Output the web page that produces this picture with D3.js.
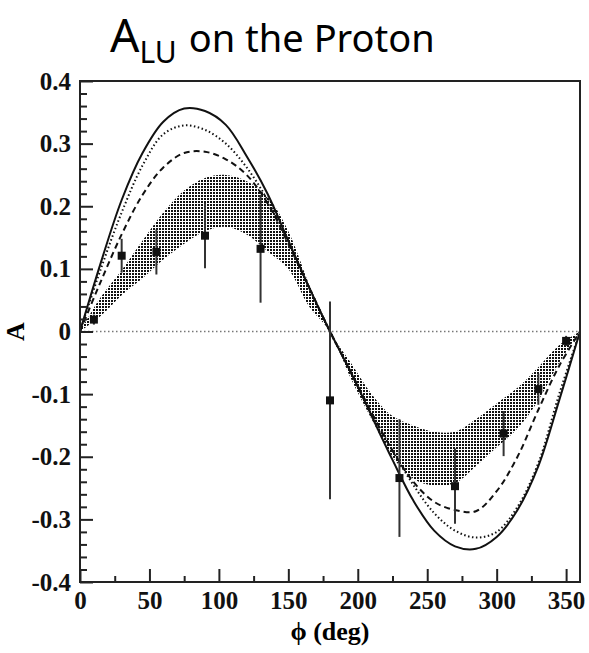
<!DOCTYPE html>
<html>
<head>
<meta charset="utf-8">
<script src="https://cdn.jsdelivr.net/npm/d3@7"></script>
<style>
  body { margin: 0; background: #fff; }
  svg { display: block; }
</style>
</head>
<body>
<svg id="chart"></svg>
<script>
// phi grid used for the model curves and the band (deg)
const phiGrid = [0, 15, 30, 45, 60, 75, 90, 105, 120, 135, 150, 165, 180,
                 195, 210, 225, 240, 255, 270, 285, 300, 315, 330, 345, 360];

// model curves
const solidA  = [0, .11, .21, .285, .335, .356, .352, .33, .28, .22, .145, .07, 0,
                 -.065, -.135, -.205, -.27, -.318, -.343, -.347, -.328, -.285, -.215, -.11, 0];
const dottedA = [0, .10, .19, .265, .315, .329, .322, .30, .262, .21, .143, .07, 0,
                 -.065, -.13, -.19, -.245, -.29, -.318, -.329, -.32, -.28, -.21, -.10, 0];
const dashedA = [0, .08, .155, .218, .262, .285, .287, .275, .25, .205, .14, .07, 0,
                 -.065, -.13, -.19, -.24, -.272, -.285, -.287, -.255, -.20, -.125, -.055, 0];

// shaded band (lower / upper edge)
const bandLow  = [0, .025, .058, .085, .115, .14, .16, .167, .155, .128, .10, .04, 0,
                  -.075, -.14, -.2, -.235, -.246, -.242, -.215, -.185, -.155, -.11, -.05, 0];
const bandHigh = [0, .055, .098, .145, .19, .225, .245, .25, .24, .215, .16, .075, 0,
                  -.05, -.10, -.135, -.15, -.16, -.16, -.14, -.115, -.09, -.057, -.022, 0];

// measured points
const ptPhi = [10, 30, 55, 90, 130, 180, 230, 270, 305, 330, 350];
const ptA   = [.019, .121, .127, .153, .132, -.11, -.234, -.247, -.163, -.092, -.015];
const ptErr = [.008, .027, .036, .052, .086, .158, .094, .06, .036, .025, .008];

const xTicks = [0, 50, 100, 150, 200, 250, 300, 350];
const xMinor = [25, 75, 125, 175, 225, 275, 325];
const yTicks = [-0.4, -0.3, -0.2, -0.1, 0, 0.1, 0.2, 0.3, 0.4];
const yMinor = d3.range(-0.38, 0.4, 0.02).filter(v => Math.abs(Math.round(v * 10) - v * 10) > 0.05);

const W = 589, H = 653;
const svg = d3.select("#chart").attr("width", W).attr("height", H);

const x = d3.scaleLinear().domain([0, 360]).range([80, 580]);
const y = d3.scaleLinear().domain([-0.4, 0.4]).range([582, 81]);

// pattern for the stippled band
const defs = svg.append("defs");
const pat = defs.append("pattern")
    .attr("id", "stip")
    .attr("patternUnits", "userSpaceOnUse")
    .attr("width", 3).attr("height", 3);
pat.append("rect").attr("x", 0).attr("y", 0).attr("width", 2).attr("height", 2).attr("fill", "#111");

const bandData = phiGrid.map((p, i) => ({ p, lo: bandLow[i], hi: bandHigh[i] }));
const area = d3.area()
    .x(d => x(d.p))
    .y0(d => y(d.lo))
    .y1(d => y(d.hi))
    .curve(d3.curveCatmullRom.alpha(0.5));

svg.append("path")
    .datum(bandData)
    .attr("d", area)
    .attr("fill", "url(#stip)");

// zero line
svg.append("line")
    .attr("x1", x(0)).attr("x2", x(360))
    .attr("y1", y(0)).attr("y2", y(0))
    .style("stroke", "#777")
    .style("stroke-width", 1.5)
    .style("stroke-dasharray", "1.5,2.5");

const line = d3.line()
    .x(d => x(d[0]))
    .y(d => y(d[1]))
    .curve(d3.curveCatmullRom.alpha(0.5));

const curves = [
    { vals: dottedA, dash: "1.5,2.5", w: 2 },
    { vals: dashedA, dash: "6,4", w: 2 },
    { vals: solidA, dash: null, w: 2 }
];
curves.forEach(c => {
    svg.append("path")
        .datum(phiGrid.map((p, i) => [p, c.vals[i]]))
        .attr("d", line)
        .attr("fill", "none")
        .style("stroke", "#111")
        .style("stroke-width", c.w)
        .style("stroke-dasharray", c.dash);
});

// data points with error bars
const pts = ptPhi.map((p, i) => ({ p, a: ptA[i], e: ptErr[i] }));
svg.selectAll(".err")
    .data(pts)
    .enter()
    .append("line")
    .attr("class", "err")
    .attr("x1", d => x(d.p)).attr("x2", d => x(d.p))
    .attr("y1", d => y(d.a - d.e)).attr("y2", d => y(d.a + d.e))
    .style("stroke", "#333")
    .style("stroke-width", 2);

svg.selectAll(".pt")
    .data(pts)
    .enter()
    .append("rect")
    .attr("class", "pt")
    .attr("x", d => x(d.p) - 4)
    .attr("y", d => y(d.a) - 4)
    .attr("width", 8).attr("height", 8)
    .attr("fill", "#111");

// axes (ticks pointing inward)
const fmtY = d => d === 0 ? "0" : d3.format(".1f")(d).replace("\u2212", "-");

const yAxis = svg.append("g")
    .attr("transform", `translate(${x(0)},0)`)
    .call(d3.axisLeft(y).tickValues(yTicks).tickSize(-13).tickPadding(9).tickFormat(fmtY));
svg.append("g")
    .attr("transform", `translate(${x(0)},0)`)
    .call(d3.axisLeft(y).tickValues(yMinor).tickSize(-7).tickFormat(""))
    .call(g => g.select(".domain").remove());

const xAxis = svg.append("g")
    .attr("transform", `translate(0,${y(-0.4)})`)
    .call(d3.axisBottom(x).tickValues(xTicks).tickSize(-13).tickPadding(6).tickFormat(d3.format("d")));
svg.append("g")
    .attr("transform", `translate(0,${y(-0.4)})`)
    .call(d3.axisBottom(x).tickValues(xMinor).tickSize(-6).tickFormat(""))
    .call(g => g.select(".domain").remove());

svg.selectAll(".tick line").style("stroke", "#222").style("stroke-width", 2);
svg.selectAll(".domain").remove();

[yAxis, xAxis].forEach(g => g.selectAll("text")
    .style("font-family", "'Liberation Serif', 'Times New Roman', serif")
    .style("font-weight", "bold")
    .style("font-size", "25px")
    .style("fill", "#111"));
xAxis.selectAll("text").attr("dy", "0.85em");

// frame
svg.append("rect")
    .attr("x", x(0)).attr("y", y(0.4))
    .attr("width", x(360) - x(0)).attr("height", y(-0.4) - y(0.4))
    .attr("fill", "none")
    .style("stroke", "#222")
    .style("stroke-width", 2);

// axis titles
svg.append("text")
    .attr("transform", `translate(24,${y(0)}) rotate(-90)`)
    .attr("text-anchor", "middle")
    .style("font-family", "'Liberation Serif', serif")
    .style("font-weight", "bold")
    .style("font-size", "26px")
    .text("A");

svg.append("text")
    .attr("x", 330).attr("y", 640)
    .attr("text-anchor", "middle")
    .style("font-family", "'Liberation Serif', serif")
    .style("font-weight", "bold")
    .style("font-size", "26px")
    .text("\u03d5 (deg)");

// title
const title = svg.append("text")
    .attr("x", 110).attr("y", 52)
    .style("font-family", "'Noto Sans', sans-serif")
    .style("fill", "#000");
title.append("tspan").style("font-size", "46px").text("A");
title.append("tspan").attr("dy", 11).style("font-size", "30px").text("LU");
title.append("tspan").attr("dy", -11).attr("dx", 12).style("font-size", "38px").text("on the Proton");
</script>
</body>
</html>
